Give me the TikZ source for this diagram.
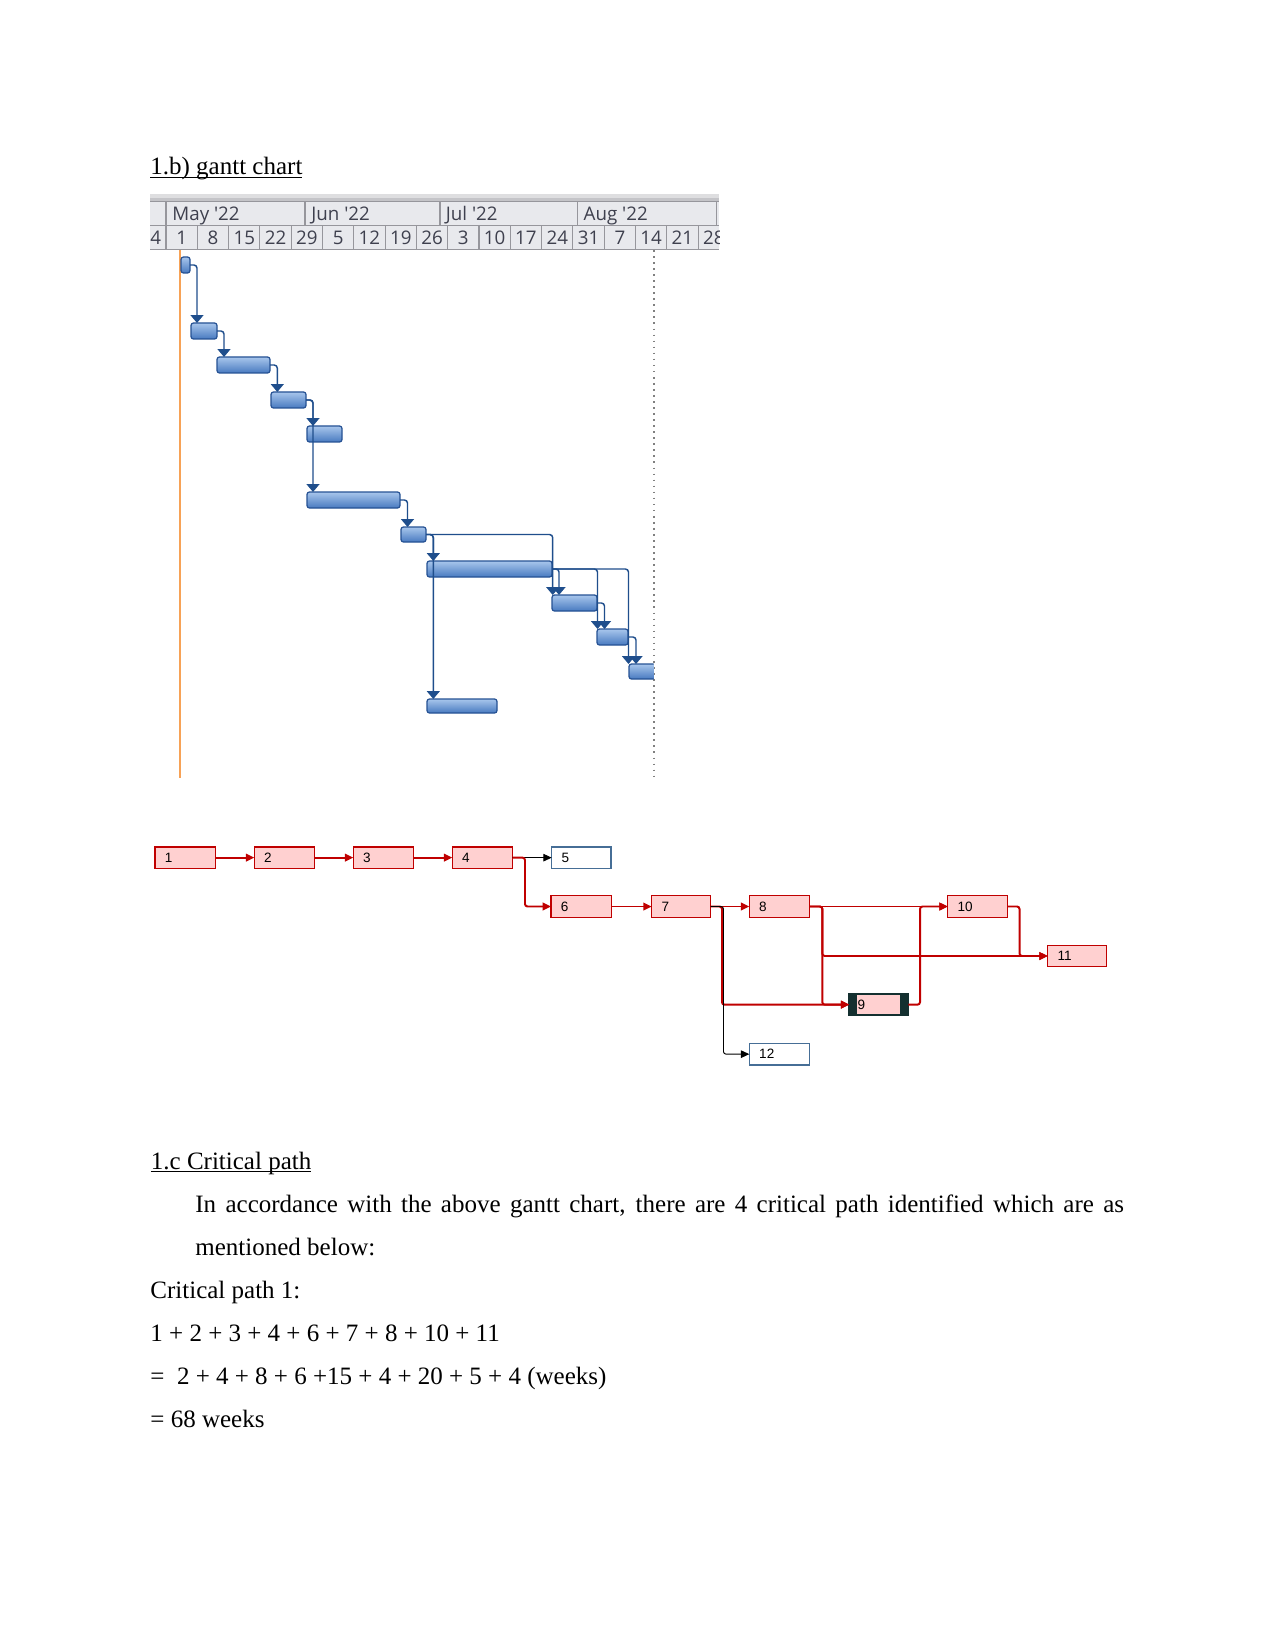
\documentclass[tikz,border=0pt]{standalone}
\usepackage{fontspec}
\setmainfont{Liberation Serif}
\newfontfamily\hdrfont{Open Sans}[Ligatures=TeXOff]
\newfontfamily\netfont{Liberation Sans}
\usetikzlibrary{arrows.meta,fit,calc}
\definecolor{gblue}{RGB}{31,78,140}
\definecolor{barlight}{RGB}{168,198,236}
\definecolor{bardark}{RGB}{72,122,192}
\definecolor{barline}{RGB}{38,82,148}
\definecolor{hdrfill}{RGB}{232,233,237}
\definecolor{hdrtopa}{RGB}{222,222,224}
\definecolor{hdrtopb}{RGB}{196,196,200}
\definecolor{hdrline}{RGB}{150,150,156}
\definecolor{hdrtext}{RGB}{62,64,78}
\definecolor{todayc}{RGB}{247,162,86}
\definecolor{critred}{RGB}{192,0,0}
\definecolor{critfill}{RGB}{255,208,208}
\definecolor{normline}{RGB}{70,110,150}
\definecolor{selc}{RGB}{20,48,48}
\newcommand\myul[1]{\setbox0\hbox{#1}\rlap{\rule[-1.5pt]{\wd0}{0.6pt}}\box0}
\begin{document}
\begin{tikzpicture}[x=0.48pt,y=-0.48pt,
  txt/.style={anchor=base west,inner sep=0pt,font=\fontsize{12}{14}\selectfont},
  mon/.style={anchor=base west,inner sep=0pt,text=hdrtext,font=\hdrfont\fontsize{9}{10}\selectfont},
  wk/.style={anchor=base,inner sep=0pt,text=hdrtext,font=\hdrfont\fontsize{9}{10}\selectfont},
  bar/.style={draw=barline,line width=0.6pt,rounded corners=1.2pt,top color=barlight,bottom color=bardark,inner sep=0pt,outer sep=0pt},
  glink/.style={draw=gblue,line width=0.7pt,rounded corners=1.5pt,-{Triangle[width=6.2pt,length=3.8pt]}},
  nbox/.style={draw=critred,line width=0.5pt,fill=critfill,inner sep=0pt,outer sep=0pt},
  nboxn/.style={draw=normline,line width=0.5pt,fill=white,inner sep=0pt,outer sep=0pt},
  nlab/.style={anchor=west,inner sep=0pt,font=\netfont\fontsize{6.5}{7}\selectfont},
  clink/.style={draw=critred,line width=0.95pt,rounded corners=1.2pt,-{Triangle[length=4pt,width=3.6pt]}},
  blink/.style={draw=black,line width=0.45pt,rounded corners=1.2pt,-{Triangle[length=4pt,width=3.6pt]}}
]
\useasboundingbox (0,0) rectangle (1275,1650);
\fill[white] (0,0) rectangle (1275,1650);

% ---------- heading ----------
\node[txt] (title1) at (150,175) {\myul{1.b) gantt chart}};

% ---------- gantt chart ----------
\begin{scope}
\clip (150,190) rectangle (719,790);
\fill[hdrtopa] (150,194) rectangle (719,198);
\fill[hdrtopb] (150,198) rectangle (719,201.7);
\fill[hdrfill] (150,201.7) rectangle (719,249.3);
\draw[draw=hdrline,line width=0.7pt] (150,201.7) -- (719,201.7);
\draw[draw=hdrline,line width=0.5pt] (150,225.7) -- (719,225.7);
\draw[draw=hdrline,line width=0.7pt] (150,249.3) -- (719,249.3);
\foreach \xx in {166,305,440,577.3,716.7} \draw[draw=hdrline,line width=0.5pt] (\xx,201.7) -- (\xx,225.7);
\foreach \k in {0,...,17} \draw[draw=hdrline,line width=0.5pt] ({166+31.3*\k},225.7) -- ({166+31.3*\k},249.3);
\node[mon] (mmay) at (172,220.7) {May '22};
\node[mon] (mjun) at (311,220.7) {Jun '22};
\node[mon] (mjul) at (445.5,220.7) {Jul '22};
\node[mon] (maug) at (583.3,220.7) {Aug '22};
\foreach \lab [count=\k from -1] in {24,1,8,15,22,29,5,12,19,26,3,10,17,24,31,7,14,21,28}
  \node[wk] (wk\k) at ({166+31.3*\k+15.65},245) {\lab};

% today line and finish line
\coordinate (todaytop) at (180,250);
\coordinate (todaybot) at (180,778);
\draw[draw=todayc,line width=0.7pt] (todaytop) -- (todaybot);
\coordinate (fintop) at (654,250);
\coordinate (finbot) at (654,778);
\draw[draw=gray,line width=0.6pt,dash pattern=on 0.8pt off 2.1pt] (fintop) -- (finbot);

% bars
\node[bar,fit={(181,257)(190,273)}] (g1) {};
\node[bar,fit={(191,323)(217,339)}] (g2) {};
\node[bar,fit={(217,357)(270,373)}] (g3) {};
\node[bar,fit={(271,392)(306,408)}] (g4) {};
\node[bar,fit={(307,426)(342,442)}] (g5) {};
\node[bar,fit={(307,492)(400,508)}] (g6) {};
\node[bar,fit={(401,527)(426,542)}] (g7) {};
\node[bar,fit={(427,561)(552,577)}] (g8) {};
\node[bar,fit={(552,595)(597,611)}] (g9) {};
\node[bar,fit={(597,629)(628,645)}] (g10) {};
\begin{scope}
\clip (600,650) rectangle (653.5,690);
\node[bar,fit={(629,664)(664,679)}] (g11) {};
\end{scope}
\node[bar,fit={(427,699)(497,713)}] (g12) {};

% links
\draw[glink] (g1.east) -| ($(g2.north west)+(6,0)$);
\draw[glink] (g2.east) -| ($(g3.north west)+(7,0)$);
\draw[glink] (g3.east) -| ($(g4.north west)+(6.3,0)$);
\draw[glink] (g4.east) -| ($(g5.north west)+(6,0)$);
\draw[glink] (g4.east) -| ($(g6.north west)+(6,0)$);
\draw[glink] (g6.east) -| ($(g7.north west)+(6.5,0)$);
\draw[glink] (g7.east) -| ($(g8.north west)+(6.3,0)$);
\draw[glink] (g7.east) -| ($(g12.north west)+(6.3,0)$);
\draw[glink] (g7.east) -| ($(g9.north west)+(0.7,0)$);
\draw[glink] (g8.east) -| ($(g9.north west)+(7,0)$);
\draw[glink] (g8.east) -| ($(g10.north west)+(0.5,0)$);
\draw[glink] (g8.east) -| ($(g11.north west)+(-0.5,0)$);
\draw[glink] (g9.east) -| ($(g10.north west)+(7.5,0)$);
\draw[glink] (g10.east) -| ($(g11.north west)+(7,0)$);
\end{scope}

% ---------- network diagram ----------
\node[nbox,fit={(155,847)(215.7,868.3)}] (n1) {};
\node[nbox,fit={(254.3,847)(314.3,868.3)}] (n2) {};
\node[nbox,fit={(353.3,847)(413.3,868.3)}] (n3) {};
\node[nbox,fit={(452.3,847)(512.3,868.3)}] (n4) {};
\node[nboxn,fit={(551.7,847)(611,868.3)}] (n5) {};
\node[nbox,fit={(551,895.7)(611.7,917.3)}] (n6) {};
\node[nbox,fit={(651.7,895.7)(710.7,917.3)}] (n7) {};
\node[nbox,fit={(749.3,895.7)(809.3,917.3)}] (n8) {};
\node[nbox,fit={(947.7,895.7)(1007.7,917.3)}] (n10) {};
\node[nbox,fit={(1047.7,945.3)(1106.7,966.7)}] (n11) {};
\node[nbox,draw=selc,line width=0.8pt,fit={(849.3,994.3)(908.3,1015)}] (n9) {};
\fill[selc] (n9.north west) rectangle ($(n9.south west)+(7.4,0)$);
\fill[selc] ($(n9.north east)+(-8,0)$) rectangle (n9.south east);
\node[nboxn,fit={(749.3,1043.3)(809.3,1065)}] (n12) {};

\foreach \n in {1,2,3,4,5,6,7,8,10,11,12}
  \node[nlab] (l\n) at ($(n\n.west)+(9.5,0)$) {\n};
\node[nlab] (l9) at ($(n9.west)+(8,0)$) {9};

% connectors
\draw[blink] (n4.east) -- (n5.west);
\draw[clink] (n1.east) -- (n2.west);
\draw[clink] (n2.east) -- (n3.west);
\draw[clink] (n3.east) -- (n4.west);
\draw[clink] (n4.east) -| ($(n6.west)+(-26,0)$) -- (n6.west);
\draw[clink] (n6.east) -- (n7.west);
\draw[clink] (n7.east) -- (n8.west);
\draw[clink] (n7.east) -| ($(n9.west)+(-127.3,0)$) -- (n9.west);
\draw[blink] (n7.east) -| ($(n12.west)+(-25.8,0)$) -- (n12.west);
\draw[clink] (n8.east) -- (n10.west);
\draw[clink] (n8.east) -| ($(n9.west)+(-27,0)$) -- (n9.west);
\draw[clink] (n8.east) -| ($(n11.west)+(-225.4,0)$) -- (n11.west);
\draw[clink] (n9.east) -| ($(n10.west)+(-27.7,0)$) -- (n10.west);
\draw[clink] (n10.east) -| ($(n11.west)+(-28.2,0)$) -- (n11.west);

% ---------- text ----------
\node[txt] (title2) at (150.5,1169.3) {\myul{1.c Critical path}};
\node[txt] (p1) at (195,1212.4) {\hbox to 445.7pt{In accordance with the above gantt chart, there are 4 critical path identified which are as}};
\node[txt] (p2) at (195,1255.5) {mentioned below:};
\node[txt] (p3) at (150,1298.6) {Critical path 1:};
\node[txt] (p4) at (150,1341.7) {1 + 2 + 3 + 4 + 6 + 7 + 8 + 10 + 11};
\node[txt] (p5) at (150,1384.8) {= \ 2 + 4 + 8 + 6 +15 + 4 + 20 + 5 + 4 (weeks)};
\node[txt] (p6) at (150,1427.9) {= 68 weeks};
\end{tikzpicture}
\end{document}
